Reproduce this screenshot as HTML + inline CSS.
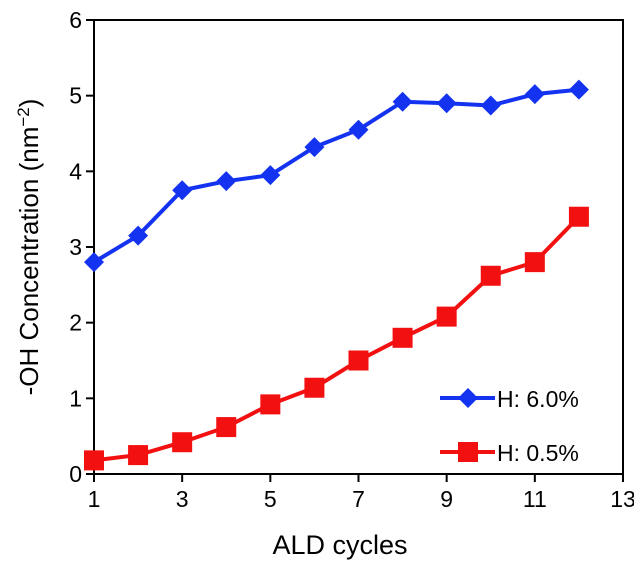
<!DOCTYPE html>
<html><head><meta charset="utf-8"><style>
html,body{margin:0;padding:0;background:#fff;}
svg{display:block;font-family:"Liberation Sans",sans-serif;}
</style></head><body>
<svg id="chart" width="634" height="562"></svg>
<script>
const cycles=[1,2,3,4,5,6,7,8,9,10,11,12];
const seriesH60=[2.8,3.15,3.75,3.87,3.95,4.32,4.55,4.92,4.9,4.87,5.02,5.08];
const seriesH05=[0.18,0.25,0.42,0.62,0.92,1.14,1.5,1.8,2.08,2.62,2.8,3.4];
const xTicks=[1,3,5,7,9,11,13];
const yTicks=[0,1,2,3,4,5,6];
const NS="http://www.w3.org/2000/svg";
const svg=document.getElementById('chart');
const L=94,R=623,T=20,B=474;
const sx=v=>L+(v-1)/12*(R-L);
const sy=v=>B-v/6*(B-T);
function el(t,a){const e=document.createElementNS(NS,t);for(const k in a)e.setAttribute(k,a[k]);svg.appendChild(e);return e;}
let f=el('rect',{x:L,y:T,width:R-L,height:B-T,fill:'none',stroke:'#000','stroke-width':2});


xTicks.forEach(v=>{
 let t=el('line',{x1:sx(v),x2:sx(v),y1:B,y2:B+8,stroke:'#000','stroke-width':2});
 
 
 let l=el('text',{x:sx(v),y:B+33,'text-anchor':'middle','font-size':23});l.textContent=v;
 
 
});
yTicks.forEach(v=>{
 let t=el('line',{x1:L-8,x2:L,y1:sy(v),y2:sy(v),stroke:'#000','stroke-width':2});
 
 
 let l=el('text',{x:L-12,y:sy(v)+8,'text-anchor':'end','font-size':23});l.textContent=v;
 
 
});
let xt=el('text',{x:340,y:554,'text-anchor':'middle','font-size':27});xt.textContent='ALD cycles';


let yt=el('text',{x:0,y:0,'text-anchor':'middle','font-size':26,transform:'translate(38,247) rotate(-90)'});
yt.innerHTML='-OH Concentration (nm<tspan dy="-9" font-size="17">−2</tspan><tspan dy="9">)</tspan>';


function diamond(x,y,c){return el('polygon',{points:`${x},${y-10} ${x+10},${y} ${x},${y+10} ${x-10},${y}`,fill:c});}
function square(x,y,c){return el('rect',{x:x-10,y:y-10,width:20,height:20,fill:c});}
function series(vals,c,mk,name){
 let p=el('polyline',{points:vals.map((v,i)=>sx(cycles[i])+','+sy(v)).join(' '),fill:'none',stroke:c,'stroke-width':4});
 
 
 vals.forEach((v,i)=>{let m=mk(sx(cycles[i]),sy(v),c);
  
  });
}
series(seriesH60,'#1433f0',diamond,'h-6-0');
series(seriesH05,'#f21010',square,'h-0-5');
let lg1=el('line',{x1:440,x2:495,y1:398,y2:398,stroke:'#1433f0','stroke-width':4});


diamond(468,398,'#1433f0');
let lt1=el('text',{x:497,y:407,'font-size':23});lt1.textContent='H: 6.0%';


let lg2=el('line',{x1:440,x2:495,y1:452,y2:452,stroke:'#f21010','stroke-width':4});


square(468,452,'#f21010');
let lt2=el('text',{x:497,y:461,'font-size':23});lt2.textContent='H: 0.5%';


</script>
</body></html>
